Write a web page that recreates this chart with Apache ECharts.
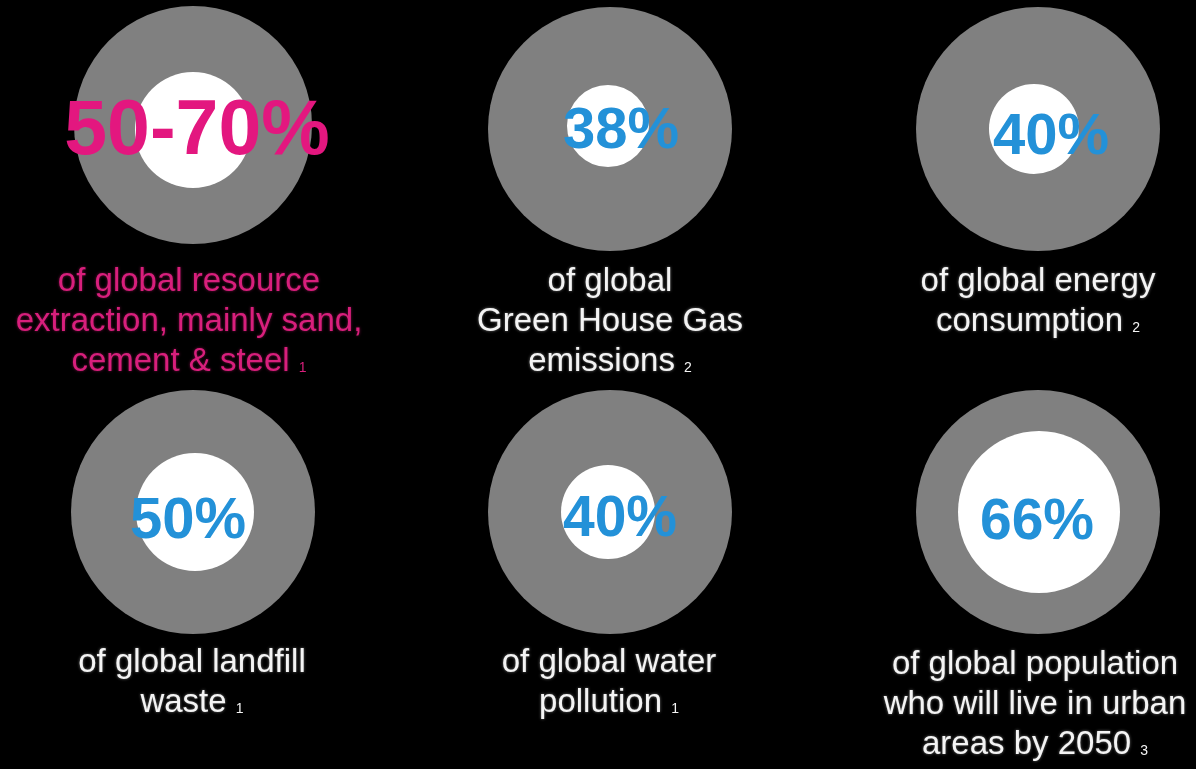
<!DOCTYPE html>
<html><head><meta charset="utf-8">
<script src="https://cdn.jsdelivr.net/npm/echarts@6/dist/echarts.min.js"></script>
<style>html,body{margin:0;padding:0;background:#000;}#c{width:1196px;height:769px;}</style>
</head><body><div id="c"></div>
<script>
// ---- data ----
const figures = ['50-70%', '38%', '40%', '50%', '40%', '66%'];
const captionLines = [
  ['of global resource', 'extraction, mainly sand,', 'cement & steel '],
  ['of global', 'Green House Gas', 'emissions '],
  ['of global energy', 'consumption '],
  ['of global landfill', 'waste '],
  ['of global water', 'pollution '],
  ['of global population', 'who will live in urban', 'areas by 2050 ']
];
const footnotes = ['1', '2', '2', '1', '1', '3'];
const highlighted = [true, false, false, false, false, false];

// ---- layout / style ----
const ringCenters = [[193, 125], [610, 129], [1038, 129], [193, 512], [610, 512], [1038, 512]];
const ringRadii = [119, 122, 122, 122, 122, 122];
const holeCenters = [[193, 130], [608, 126], [1034, 129], [195, 512], [608, 512], [1039, 512]];
const holeRadii = [58, 41, 45, 59, 47, 81];
const labelShift = [[4, 3], [13, 6], [17, 9], [-7, 10], [12, 8], [-2, 11]];
const labelSizes = [77, 58, 58, 58, 57, 57];
const captionAnchors = [[189, 258], [610, 258], [1038, 258], [192, 639], [609, 639], [1035, 641]];
const FONT = 'Liberation Sans, Arial, Helvetica, sans-serif';
const BLUE = '#2391d8', PINK = '#e3177f', PINK_TXT = '#d81f7c', GREY = '#808080';

const series = [];
figures.forEach((fig, i) => {
  series.push({
    type: 'pie', silent: true, animation: false,
    center: ringCenters[i], radius: [0, ringRadii[i]],
    itemStyle: { color: GREY, borderWidth: 0 },
    label: { show: false }, labelLine: { show: false },
    emphasis: { disabled: true },
    data: [{ value: 1, name: fig }]
  });
  series.push({
    type: 'pie', silent: true, animation: false,
    center: holeCenters[i], radius: [0, holeRadii[i]],
    itemStyle: { color: '#ffffff', borderWidth: 0 },
    label: {
      show: true, position: 'center', formatter: '{b}',
      color: highlighted[i] ? PINK : BLUE,
      fontSize: labelSizes[i], fontWeight: 'bold', fontFamily: FONT
    },
    labelLayout: { dx: labelShift[i][0], dy: labelShift[i][1] },
    labelLine: { show: false },
    emphasis: { disabled: true },
    data: [{ value: 1, name: fig }]
  });
});

const graphic = captionLines.map((lines, i) => {
  const col = highlighted[i] ? PINK_TXT : '#f4f4f4';
  const text = lines.map((l, k) =>
    k === lines.length - 1 ? `{m|${l}}{s|${footnotes[i]}}` : `{m|${l}}`).join('\n');
  return {
    type: 'text', silent: true,
    x: captionAnchors[i][0], y: captionAnchors[i][1],
    style: {
      text, align: 'center', verticalAlign: 'top',
      rich: {
        m: { fontSize: 33, fontFamily: FONT, fill: col, lineHeight: 40, verticalAlign: 'bottom',
             textShadowColor: highlighted[i] ? 'rgba(230,30,130,0.5)' : 'rgba(255,255,255,0.45)', textShadowBlur: 3 },
        s: { fontSize: 14, fontFamily: FONT, fill: col, lineHeight: 40, verticalAlign: 'bottom', padding: [0, 0, 3, 0] }
      }
    }
  };
});

const chart = echarts.init(document.getElementById('c'));
chart.setOption({ backgroundColor: '#000000', animation: false, series, graphic });
</script></body></html>
